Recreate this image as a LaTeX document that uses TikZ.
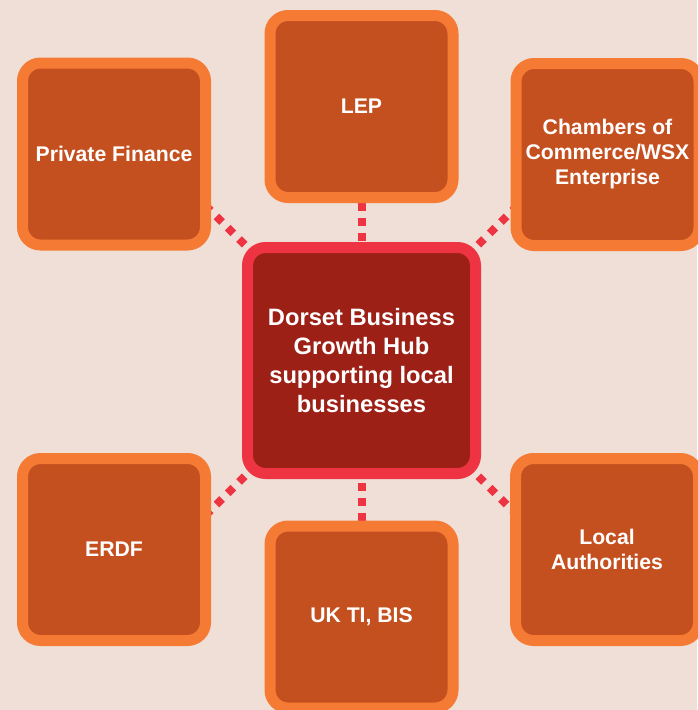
\documentclass[tikz,border=0pt]{standalone}
\usepackage{fontspec}
\setmainfont{Liberation Sans}
\pgfdeclarelayer{back}
\pgfdeclarelayer{links}
\pgfsetlayers{back,links,main}
\definecolor{bgc}{HTML}{F0DFD6}
\definecolor{obord}{HTML}{F57B35}
\definecolor{ofill}{HTML}{C5501F}
\definecolor{rbord}{HTML}{EE3442}
\definecolor{rfill}{HTML}{9D2017}
\begin{document}
\begin{tikzpicture}[x=1pt,y=-1pt,
  partner/.style={draw=obord, fill=ofill, line width=11pt, rounded corners=18pt,
    minimum width=183pt, minimum height=182pt, inner sep=0pt, outer sep=0pt,
    align=center, text=white, font=\fontsize{21.2}{25}\selectfont\bfseries},
  hubbox/.style={draw=rbord, fill=rfill, line width=11pt, rounded corners=18pt,
    minimum width=228pt, minimum height=226pt, inner sep=0pt, outer sep=0pt,
    align=center, text=white, font=\fontsize{23.7}{29}\selectfont\bfseries},
  vlink/.style={draw=rbord, line width=8pt, dash pattern=on 8pt off 7pt},
  dlink/.style={draw=rbord, line width=8pt, dash pattern=on 8pt off 8pt, dash phase=12pt}
]
\useasboundingbox (0,0) rectangle (697,710);
\begin{pgfonlayer}{back}
  \fill[bgc] (0,0) rectangle (697,710);
\end{pgfonlayer}

\node[hubbox] (hub) at (361.5,360.5) {Dorset Business\\Growth Hub\\supporting local\\businesses};
\node[partner] (pf) at (114,154) {Private Finance};
\node[partner] (lep) at (361.5,106.5) {LEP};
\node[partner] (cc) at (607.5,154.5) {Chambers of\\Commerce/WSX\\Enterprise};
\node[partner] (erdf) at (114,549.5) {ERDF};
\node[partner] (ukti) at (361.5,617) {UK TI, BIS};
\node[partner] (la) at (607,549.5) {Local\\Authorities};

\coordinate (pfend) at (205.5,205.5);
\coordinate (ccend) at (517.5,205.5);
\coordinate (erdfend) at (205.5,515.5);
\coordinate (laend) at (517.5,515.5);

\begin{pgfonlayer}{links}
  \draw[vlink, dash phase=8pt] (hub.north) -- (lep.south);
  \draw[vlink, dash phase=5.5pt] (hub.south) -- (ukti.north);
  \draw[dlink] (hub.north west) -- (pfend);
  \draw[dlink] (hub.north east) -- (ccend);
  \draw[dlink] (hub.south west) -- (erdfend);
  \draw[dlink] (hub.south east) -- (laend);
\end{pgfonlayer}
\end{tikzpicture}
\end{document}
